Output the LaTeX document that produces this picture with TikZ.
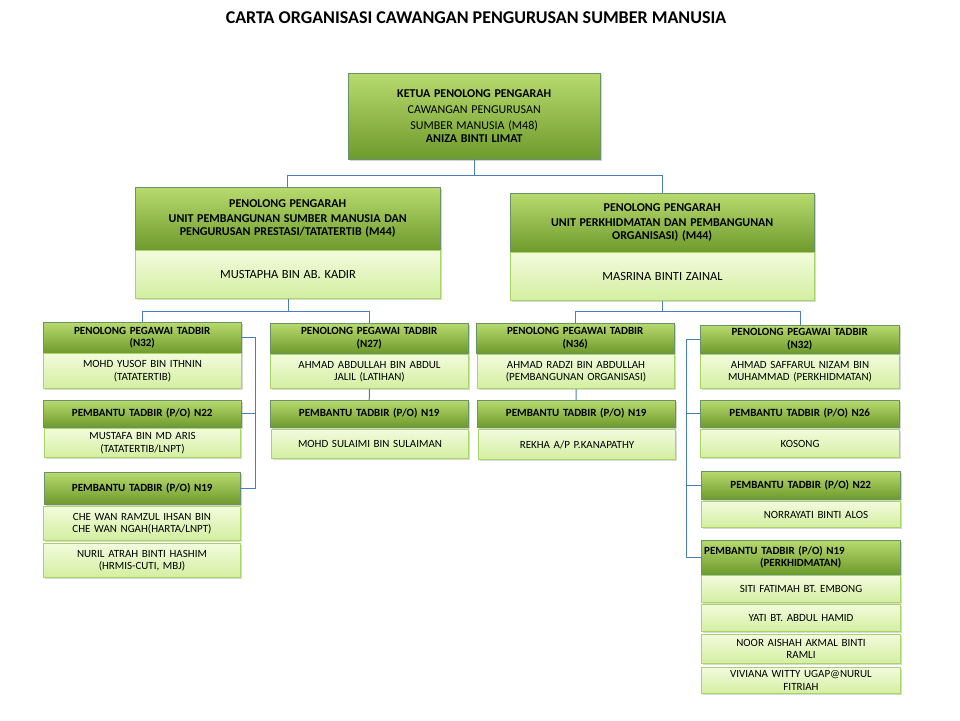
\documentclass[tikz,border=0pt]{standalone}
\usepackage{fontspec}
\setmainfont{Carlito}
\usetikzlibrary{shadows}
\tikzset{
 hdr/.style={draw=green!30!black!60, shade, top color=hdrtop, bottom color=hdrbot, drop shadow={shadow xshift=1.5pt,shadow yshift=-1.5pt,opacity=.35}, font=\fontsize{11}{12.5}\selectfont\bfseries},
 bdy/.style={draw=bdyline, shade, top color=bdytop, bottom color=bdybot, line width=1pt, drop shadow={shadow xshift=1.5pt,shadow yshift=-1.5pt,opacity=.3}, font=\fontsize{11}{12.5}\selectfont},
 conn/.style={draw=linkblue, line width=1pt}
}
\definecolor{hdrtop}{HTML}{B8DA6E}
\definecolor{hdrbot}{HTML}{6E9A2C}
\definecolor{bdytop}{HTML}{F2FBDD}
\definecolor{bdybot}{HTML}{D3EFA0}
\definecolor{bdyline}{HTML}{A9D466}
\definecolor{linkblue}{HTML}{4A7EBB}
\newcommand\bx[7]{\pgfmathsetmacro\bw{#4-#2}\pgfmathsetmacro\bh{#5-#3}\pgfmathsetmacro\tw{#4-#2-6}%
\node[#1,anchor=north west,minimum width=\bw pt,minimum height=\bh pt,text width=\tw pt,align=center,inner sep=0pt] (#6) at (#2,#3) {#7};}
\begin{document}
\begin{tikzpicture}[x=1pt,y=-1pt]
\useasboundingbox (0,0) rectangle (960,720);
\node[font=\fontsize{18}{20}\selectfont\bfseries] (title) at (476,18) {CARTA ORGANISASI CAWANGAN PENGURUSAN SUMBER MANUSIA};
% top
\bx{hdr}{348}{73}{600}{159}{top}{{\fontsize{12}{16}\selectfont KETUA PENOLONG PENGARAH\\\mdseries CAWANGAN PENGURUSAN\\SUMBER MANUSIA (M48)\\\bfseries ANIZA BINTI LIMAT}}
% level 2
\bx{hdr}{135}{187}{440}{250}{lh}{{\fontsize{12}{15}\selectfont PENOLONG PENGARAH\\UNIT PEMBANGUNAN SUMBER MANUSIA DAN\\PENGURUSAN PRESTASI/TATATERTIB (M44)}}
\bx{bdy}{135}{250}{440}{298}{lb}{{\fontsize{12.5}{15}\selectfont MUSTAPHA BIN AB. KADIR}}
\bx{hdr}{510}{193}{814}{252}{rh}{{\fontsize{12}{15}\selectfont PENOLONG PENGARAH\\UNIT PERKHIDMATAN DAN PEMBANGUNAN\\ORGANISASI) (M44)}}
\bx{bdy}{510}{252}{814}{300}{rb}{{\fontsize{12.5}{15}\selectfont MASRINA BINTI ZAINAL}}
% col1
\bx{hdr}{43}{322}{241}{353}{a1}{PENOLONG PEGAWAI TADBIR\\(N32)}
\bx{bdy}{43}{353}{241}{388}{a1b}{MOHD YUSOF BIN ITHNIN\\(TATATERTIB)}
\bx{hdr}{43}{400}{241}{427}{a2}{PEMBANTU TADBIR (P/O) N22}
\bx{bdy}{44}{428}{240}{457}{a2b}{MUSTAFA BIN MD ARIS\\(TATATERTIB/LNPT)}
\bx{hdr}{44}{472}{240}{504}{a3}{PEMBANTU TADBIR (P/O) N19}
\bx{bdy}{43}{506}{240}{540}{a3b}{CHE WAN RAMZUL IHSAN BIN\\CHE WAN NGAH(HARTA/LNPT)}
\bx{bdy}{43}{543}{240}{577}{a3c}{NURIL ATRAH BINTI HASHIM\\(HRMIS-CUTI, MBJ)}
% col2
\bx{hdr}{270}{323}{468}{353}{b1}{PENOLONG PEGAWAI TADBIR\\(N27)}
\bx{bdy}{270}{354}{468}{388}{b1b}{AHMAD ABDULLAH BIN ABDUL\\JALIL (LATIHAN)}
\bx{hdr}{270}{400}{468}{427}{b2}{PEMBANTU TADBIR (P/O) N19}
\bx{bdy}{271}{429}{468}{458}{b2b}{MOHD SULAIMI BIN SULAIMAN}
% col3
\bx{hdr}{476}{323}{674}{353}{c1}{PENOLONG PEGAWAI TADBIR\\(N36)}
\bx{bdy}{477}{354}{674}{388}{c1b}{AHMAD RADZI BIN ABDULLAH\\(PEMBANGUNAN ORGANISASI)}
\bx{hdr}{477}{400}{675}{427}{c2}{PEMBANTU TADBIR (P/O) N19}
\bx{bdy}{478}{429}{675}{459}{c2b}{REKHA A/P P.KANAPATHY}
% col4
\bx{hdr}{700}{325}{899}{353}{d1}{PENOLONG PEGAWAI TADBIR\\(N32)}
\bx{bdy}{700}{354}{899}{388}{d1b}{AHMAD SAFFARUL NIZAM BIN\\MUHAMMAD (PERKHIDMATAN)}
\bx{hdr}{700}{400}{899}{427}{d2}{PEMBANTU TADBIR (P/O) N26}
\bx{bdy}{700}{429}{899}{457}{d2b}{KOSONG}
\bx{hdr}{701}{471}{900}{499}{d3}{PEMBANTU TADBIR (P/O) N22}
\bx{bdy}{701}{501}{900}{527}{d3b}{\hspace*{30pt}NORRAYATI BINTI ALOS}
\bx{hdr}{701}{540}{900}{574}{d4}{\raggedright PEMBANTU TADBIR (P/O) N19\\(PERKHIDMATAN)}
\bx{bdy}{701}{575}{900}{602}{d4a}{SITI FATIMAH BT. EMBONG}
\bx{bdy}{701}{604}{900}{631}{d4b}{YATI BT. ABDUL HAMID}
\bx{bdy}{701}{634}{900}{663}{d4c}{NOOR AISHAH AKMAL BINTI\\RAMLI}
\bx{bdy}{701}{667}{900}{693}{d4d}{VIVIANA WITTY UGAP@NURUL\\FITRIAH}
% connectors
\draw[conn] (top.south) -- ++(0,16) coordinate (j1) -| (lh.north);
\draw[conn] (j1) -| (rh.north);
\draw[conn] (lb.south) -- ++(0,12) coordinate (j2) -| (a1.north);
\draw[conn] (j2) -| (b1.north);
\draw[conn] (rb.south) -- ++(0,10) coordinate (j3) -| (c1.north);
\draw[conn] (j3) -| (d1.north -| 800,0);
\draw[conn] (a1.east |- 0,337) -- (255,337) coordinate (k1) -- (k1 |- a3.east) -- (a3.east);
\draw[conn] (k1 |- a2.east) -- (a2.east);
\draw[conn] (b1b.south) -- (b2.north);
\draw[conn] (c1b.south) -- (c2.north);
\draw[conn] (d1.west |- 0,339) -- (686,339) coordinate (k2) -- (k2 |- d4.west) -- (d4.west);
\draw[conn] (k2 |- d2.west) -- (d2.west);
\draw[conn] (k2 |- d3.west) -- (d3.west);
\end{tikzpicture}
\end{document}
